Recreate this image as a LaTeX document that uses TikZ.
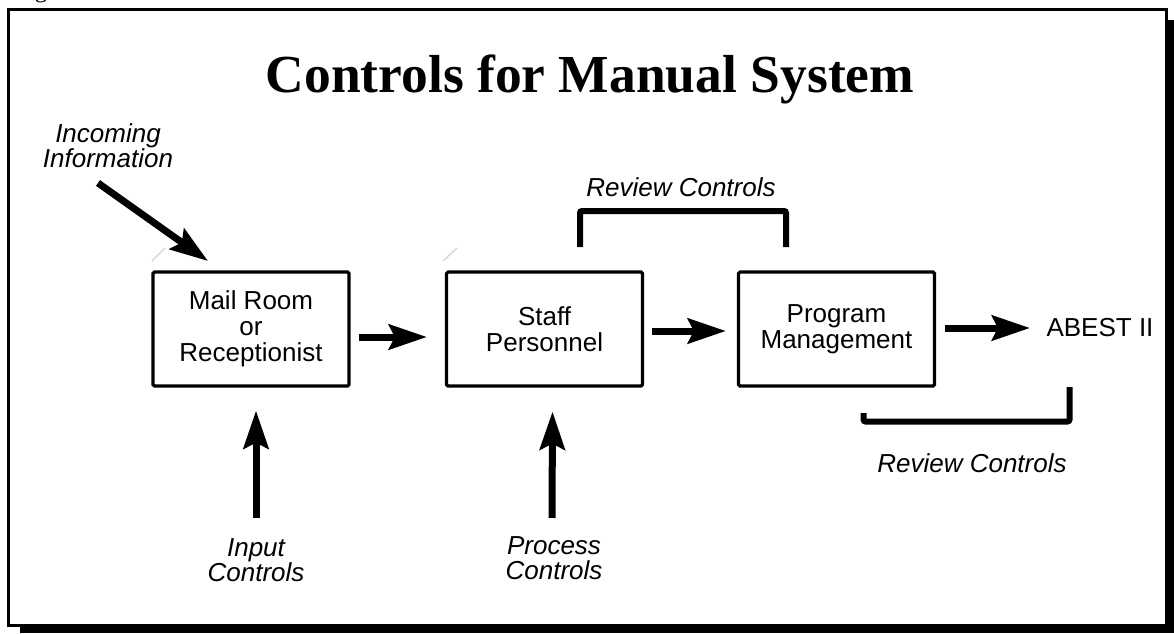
\documentclass[tikz,border=0pt]{standalone}
\usepackage{fontspec}
\setmainfont{Liberation Serif}
\newfontfamily\arialf{Liberation Sans}
\usetikzlibrary{arrows.meta,calc}

\tikzset{
  stagebox/.style={draw, line width=3.2pt, rounded corners=1.5pt, minimum width=196pt,
    minimum height=114pt, inner sep=0pt, align=center,
    font=\arialf\fontsize{26}{26}\selectfont},
  lbl/.style={inner sep=0pt, align=center, font=\arialf\itshape\fontsize{26}{25.5}\selectfont},
  plain/.style={inner sep=0pt, align=center, font=\arialf\fontsize{26}{26}\selectfont},
  bigarrow/.style={line width=7pt, -{Stealth[length=38pt,width=25pt,inset=6pt]}},
  bracketline/.style={line width=6pt, rounded corners=2pt},
  tick/.style={black!18, line width=1.2pt}
}

\begin{document}
\begin{tikzpicture}[x=1pt,y=-1pt]
  \useasboundingbox (0,0) rectangle (1174,633);

  % clipped caption letter running off the top edge
  \begin{scope}
    \clip (0,0) rectangle (1174,633);
    \node[anchor=base, inner sep=0pt, font=\fontsize{25}{25}\selectfont] (capg) at (41,-2.5) {g};
  \end{scope}

  % framed panel with drop shadow
  \fill[black] (20,20) rectangle (1174,633);
  \draw[line width=3pt, fill=white] (8.5,9.5) rectangle (1166.5,625.5);

  % title
  \node[inner sep=0pt, font=\bfseries\fontsize{53.5}{53.5}\selectfont, anchor=base] (title) at (590,92)
    {Controls for Manual System};

  % stages
  \node[stagebox] (b1) at (251,329) {Mail Room\\or\\Receptionist};
  \node[stagebox] (b2) at (544.5,329) {Staff\\Personnel};
  \node[stagebox] (b3) at (836.5,329) {Program\\Management};
  \node[plain] (abest) at (1100,328) {ABEST II};

  % labels
  \node[lbl] (incoming) at (108,145.5) {Incoming\\Information};
  \node[lbl] (inputc) at (256,560) {Input\\Controls};
  \node[lbl] (processc) at (554,558) {Process\\Controls};
  \node[lbl] (revtop) at (681,187) {Review Controls};
  \node[lbl] (revbot) at (972,463) {Review Controls};

  % faint ticks at the box corners
  \draw[tick] (152,261) -- (165,248);
  \draw[tick] (443,261) -- (457,248);

  % flow arrows
  \draw[bigarrow] ([xshift=8pt,yshift=-8pt]b1.east) -- ([xshift=-18pt,yshift=-8pt]b2.west);
  \draw[bigarrow] ([xshift=8pt,yshift=-2pt]b2.east) -- ([xshift=-11pt,yshift=-2pt]b3.west);
  \draw[bigarrow] ([xshift=9pt,yshift=1pt]b3.east) -- (abest.west -| 1030,0);

  % incoming information
  \coordinate (inctail) at (98,183);
  \draw[bigarrow] (inctail) -- (208,261);

  % control arrows from below
  \draw[bigarrow] ([yshift=20pt]inputc.north) -- ([xshift=5pt,yshift=-23pt]b1.south);
  \draw[bigarrow] ([xshift=-2pt,yshift=18pt]processc.north) -- ([xshift=8pt,yshift=-24pt]b2.south);

  % review brackets
  \draw[bracketline] (580,247) -- (580,211) -- (786,211) -- (786,247);
  \draw[bracketline] (863.5,413) -- (863.5,421.5) -- (1069.5,421.5) -- (1069.5,387);
\end{tikzpicture}
\end{document}
